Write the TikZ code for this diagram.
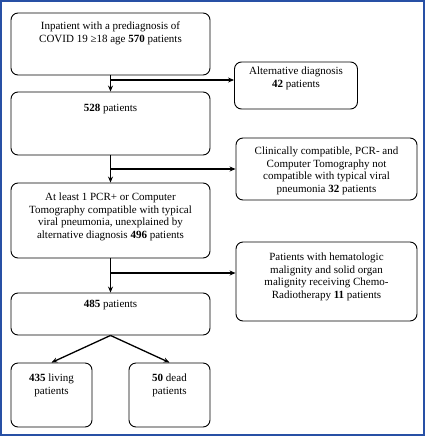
\documentclass[tikz,border=0pt]{standalone}
\usepackage{fontspec}
\setmainfont{Liberation Serif}
\usetikzlibrary{arrows.meta}
\definecolor{framecol}{RGB}{40,80,165}
\newcommand{\boxtxt}[4]{\parbox[c][#2][t]{#1}{\centering\vspace{#3}#4}}
\tikzset{
  flowbox/.style={draw,line width=0.9pt,rounded corners=7pt,inner sep=0pt,
    font=\fontsize{11}{12.6}\selectfont},
  flowarr/.style={line width=1.3pt,-{Stealth[length=6pt,width=5pt]}},
}
\begin{document}
\begin{tikzpicture}[x=1pt,y=-1pt]
		\useasboundingbox (0,0) rectangle (426,437);
		\draw[framecol,line width=1.4pt] (1,1) rectangle (424,435);
		% main column
		\node[flowbox] (start) at (110.5,44) {\boxtxt{199pt}{62pt}{9pt}{Inpatient with a prediagnosis of\\ COVID 19 ≥18 age \textbf{570} patients}};
		\node[flowbox] (p528) at (110.5,123.5) {\boxtxt{199pt}{63pt}{12pt}{\textbf{528} patients}};
		\node[flowbox] (p496) at (110.5,220.5) {\boxtxt{199pt}{75pt}{10pt}{At least 1 PCR+ or Computer\\ Tomography compatible with typical\\ viral pneumonia, unexplained by\\ alternative diagnosis \textbf{496} patients}};
		\node[flowbox] (p485) at (110.5,314) {\boxtxt{199pt}{42pt}{7pt}{\textbf{485} patients}};
		\node[flowbox] (living) at (51.5,395) {\boxtxt{81pt}{64pt}{11pt}{\textbf{435} living\\ patients}};
		\node[flowbox] (dead) at (169.5,395) {\boxtxt{81pt}{64pt}{11pt}{\textbf{50} dead\\ patients}};
		% exclusions
		\node[flowbox] (alt) at (296,85.5) {\boxtxt{123pt}{47pt}{5pt}{Alternative diagnosis\\ \textbf{42} patients}};
		\node[flowbox] (clin) at (326.5,169) {\boxtxt{181pt}{62pt}{9pt}{Clinically compatible, PCR- and\\ Computer Tomography not\\ compatible with typical viral\\ pneumonia \textbf{32} patients}};
		\node[flowbox] (chemo) at (326.5,281.5) {\boxtxt{181pt}{79pt}{11pt}{Patients with hematologic\\ malignity and solid organ\\ malignity receiving Chemo-\\ Radiotherapy \textbf{11} patients}};
		\coordinate (j1) at (110.5,80);
		\coordinate (j2) at (110.5,169);
		\coordinate (j3) at (110.5,273);
		\draw[flowarr] (start) -- (p528);
		\draw[flowarr] (p528) -- (p496);
		\draw[flowarr] (p496) -- (p485);
		\draw[flowarr] (j1) -- (j1 -| alt.west);
		\draw[flowarr] (j2) -- (j2 -| clin.west);
		\draw[flowarr] (j3) -- (j3 -| chemo.west);
		\draw[flowarr] (p485.south) -- (living.north);
		\draw[flowarr] (p485.south) -- (dead.north);
	\end{tikzpicture}
\end{document}
